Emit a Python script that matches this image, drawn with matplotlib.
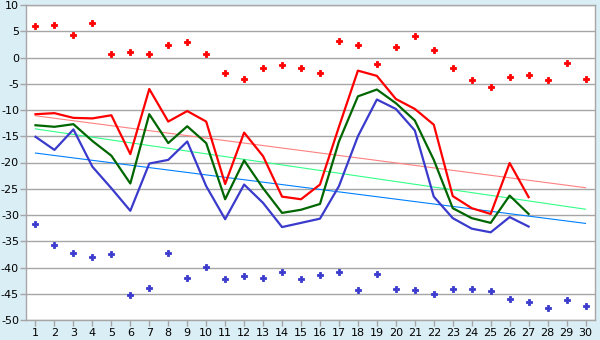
import numpy as np
import matplotlib
matplotlib.use('Agg')
import matplotlib.pyplot as plt

plt.rcParams['axes.unicode_minus'] = False

# Days of the month
dias = list(range(1, 31))
dias_linea = list(range(1, 28))

# Daily extremes (markers)
maximos = [6.0, 6.2, 4.3, 6.6, 0.7, 1.0, 0.7, 2.4, 2.9, 0.7,
           -2.9, -4.1, -2.0, -1.4, -2.0, -2.9, 3.1, 2.4, -1.2, 2.0,
           4.1, 1.4, -2.0, -4.3, -5.6, -3.7, -3.3, -4.3, -1.0, -4.1]
minimos = [-31.7, -35.7, -37.2, -38.0, -37.4, -45.2, -43.9, -37.2, -42.0, -39.9,
           -42.2, -41.6, -42.0, -40.9, -42.2, -41.4, -40.9, -44.3, -41.2, -44.1,
           -44.3, -45.0, -44.0, -44.0, -44.5, -46.0, -46.6, -47.7, -46.2, -47.3]

# Daily max / mean / min temperatures
t_max = [-10.8, -10.6, -11.5, -11.6, -11.0, -18.4, -6.0, -12.2, -10.2, -12.2,
         -24.1, -14.3, -18.8, -26.5, -27.0, -24.2, -13.2, -2.5, -3.5, -7.9,
         -9.8, -12.8, -26.4, -28.7, -29.8, -20.1, -26.6]
t_med = [-12.9, -13.2, -12.7, -15.9, -18.7, -24.0, -10.8, -16.3, -13.1, -16.3,
         -27.0, -19.6, -24.9, -29.6, -29.0, -27.9, -16.0, -7.4, -6.1, -8.7,
         -12.0, -19.5, -28.7, -30.6, -31.5, -26.3, -29.8]
t_min = [-15.1, -17.6, -13.7, -20.8, -24.9, -29.2, -20.2, -19.5, -16.0, -24.5,
         -30.8, -24.2, -27.7, -32.3, -31.5, -30.7, -24.5, -15.0, -8.0, -9.8,
         -13.9, -26.5, -30.6, -32.6, -33.3, -30.4, -32.2]

# Trend lines (value at day 1 and day 30)
tend_dias = [1, 30]
tend_max = [-11.1, -24.8]
tend_med = [-13.6, -28.9]
tend_min = [-18.2, -31.6]

fondo = '#daeef5'
gris = '#a6a6a6'

fig = plt.figure(figsize=(6, 3.4), dpi=100, facecolor=fondo)
ax = fig.add_axes([26/600, 20/340, 569/600, 315/340])
ax.set_facecolor('white')

for v in range(-50, 11, 5):
    ax.axhline(v, color=gris, lw=1.0, zorder=1)

ax.plot(tend_dias, tend_max, color='#ff8080', lw=0.8, zorder=2)
ax.plot(tend_dias, tend_med, color='#33ff88', lw=0.8, zorder=2)
ax.plot(tend_dias, tend_min, color='#0080ff', lw=0.8, zorder=2)

ax.plot(dias_linea, t_max, color='#ff0000', lw=1.6, zorder=3)
ax.plot(dias_linea, t_med, color='#006600', lw=1.6, zorder=3)
ax.plot(dias_linea, t_min, color='#3a3acc', lw=1.6, zorder=3)

# puntos extremos: cruz gruesa
ax.plot(dias, maximos, ls='none', marker='P', ms=4.5, color='#ff0000',
        markeredgewidth=0.6, zorder=4)
ax.plot(dias, minimos, ls='none', marker='P', ms=4.5, color='#3a3acc',
        markeredgewidth=0.6, zorder=4)

ax.set_xlim(0.5, 30.5)
ax.set_ylim(-50, 10)
ax.set_xticks(dias)
ax.set_yticks(range(-50, 11, 5))
ax.tick_params(axis='both', labelsize=8, color=gris, length=4, width=1,
               labelcolor='black')
ax.tick_params(axis='x', pad=2)
ax.tick_params(axis='y', pad=1)
for s in ax.spines.values():
    s.set_color(gris)
    s.set_linewidth(1)

fig.savefig('out.png', dpi=100, facecolor=fondo)
